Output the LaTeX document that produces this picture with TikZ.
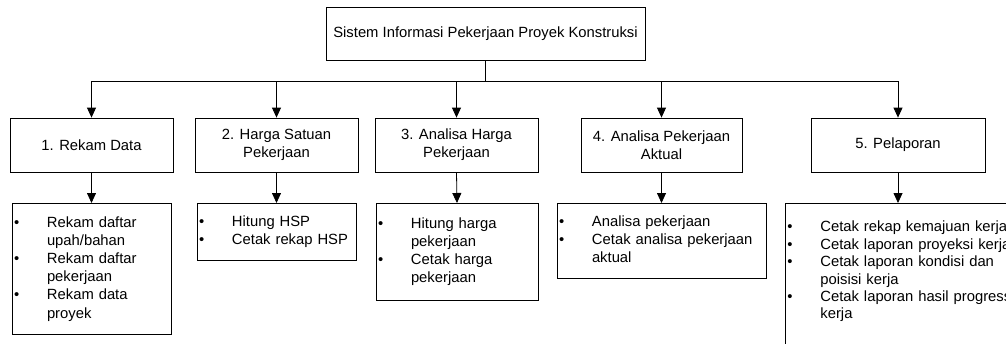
\documentclass[tikz,border=0pt]{standalone}
\usepackage{fontspec}
\setmainfont{Liberation Sans}
\usetikzlibrary{arrows.meta}
\newcommand{\butir}{\makebox[33pt][l]{\textbullet}}
\newenvironment{daftarbutir}{\begin{tabular}[t]{@{}l@{}l@{}}}{\end{tabular}}

\begin{document}
\begin{tikzpicture}[
  x=1pt, y=-1pt,
  kotak/.style={
    draw, line width=0.8pt, align=center,
    font=\fontsize{14.8}{18}\selectfont,
    inner sep=0pt, minimum height=54pt
  },
  daftar/.style={
    draw, line width=0.8pt, align=left, anchor=north,
    font=\fontsize{14.8}{18.2}\selectfont,
    inner xsep=2pt, inner ysep=0pt
  },
  panah/.style={
    line width=0.8pt, -{Triangle[length=10pt, width=9pt]}
  }
]
  \useasboundingbox (0,0) rectangle (1006,343);
  \clip (0,0) rectangle (1006,343);
  \node[kotak, minimum width=319pt, minimum height=53pt] (sistem) at (485.5,33.5)
    {Sistem Informasi Pekerjaan Proyek Konstruksi};
  \foreach \x/\w/\nama/\teks in {
      91.5/163/m1/{1. Rekam Data},
      276.5/163/m2/{2. Harga Satuan\\Pekerjaan},
      456.5/163/m3/{3. Analisa Harga\\Pekerjaan},
      661.5/161/m4/{4. Analisa Pekerjaan\\Aktual},
      898/174/m5/{5. Pelaporan}} {
    \node[kotak, minimum width=\w pt] (\nama) at (\x,145) {\teks};
  }
  % cabang dari kotak utama
  \draw[line width=0.8pt] (sistem.south) -- ++(0,21) coordinate (cabang);
  \draw[line width=0.8pt] (cabang -| m1.north) -- (cabang -| m5.north);
  \foreach \nama in {m1,m2,m3,m4,m5} {
    \draw[panah] (cabang -| \nama.north) -- (\nama.north);
  }
  \node[daftar, text width=155pt, minimum height=131pt] (d1) at (91.5,203)
    {\begin{daftarbutir}
       \butir & Rekam daftar\\ & upah/bahan\\
       \butir & Rekam daftar\\ & pekerjaan\\
       \butir & Rekam data\\ & proyek
     \end{daftarbutir}};
  \node[daftar, text width=155pt, minimum height=57pt] (d2) at (276.5,203)
    {\begin{daftarbutir}
       \butir & Hitung HSP\\
       \butir & Cetak rekap HSP
     \end{daftarbutir}};
  \node[daftar, text width=158pt, minimum height=97pt] (d3) at (457,203)
    {\begin{daftarbutir}
       \butir & Hitung harga\\ & pekerjaan\\
       \butir & Cetak harga\\ & pekerjaan
     \end{daftarbutir}};
  \node[daftar, text width=205pt, minimum height=75pt] (d4) at (661.5,203)
    {\begin{daftarbutir}
       \butir & Analisa pekerjaan\\
       \butir & Cetak analisa pekerjaan\\ & aktual
     \end{daftarbutir}};
  \node[daftar, anchor=north west, text width=233pt, text height=28.5pt, text depth=160pt,
    font=\fontsize{14.8}{17.4}\selectfont] (d5) at (785,203)
    {\begin{daftarbutir}
       \butir & Cetak rekap kemajuan kerja\\
       \butir & Cetak laporan proyeksi kerja\\
       \butir & Cetak laporan kondisi dan\\ & poisisi kerja\\
       \butir & Cetak laporan hasil progress\\ & kerja
     \end{daftarbutir}};
  \foreach \n in {1,2,3,4} {
    \draw[panah] (m\n.south) -- (d\n.north);
  }
  \draw[panah] (m5.south) -- (m5.south |- d5.north);
\end{tikzpicture}
\end{document}
